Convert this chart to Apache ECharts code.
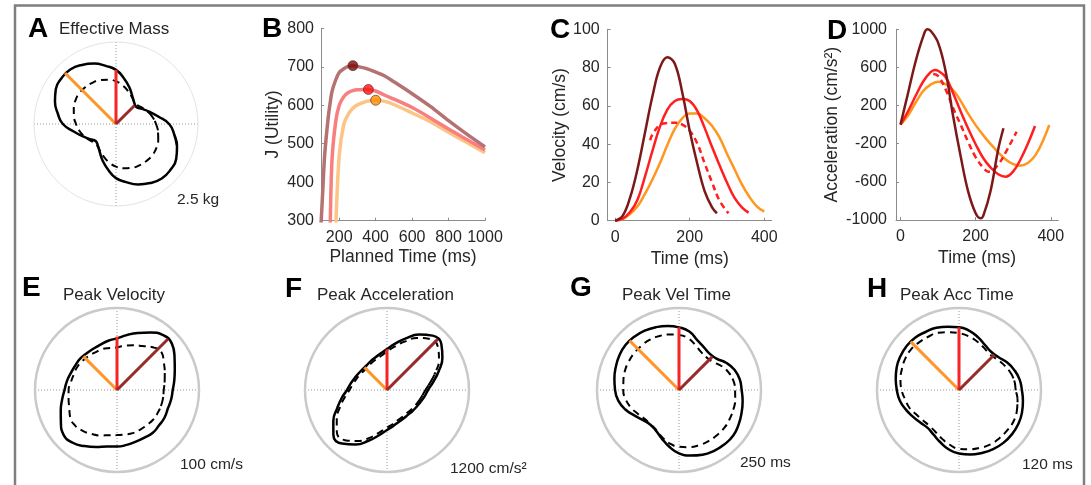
<!DOCTYPE html>
<html><head><meta charset="utf-8">
<script src="https://cdn.jsdelivr.net/npm/echarts@6/dist/echarts.min.js"></script>
<style>html,body{margin:0;padding:0;background:#fff}#c{width:1091px;height:485px}</style>
</head><body><div id="c"></div>
<script>
// ---------- DATA ----------
// polar angles (deg, counter-clockwise from east), every 10 degrees
const polarAngles = [0,10,20,30,40,50,60,70,80,90,100,110,120,130,140,150,160,170,
                     180,190,200,210,220,230,240,250,260,270,280,290,300,310,320,330,340,350];
// spokes: orange, red, dark red
const spokeAngles = [135, 90, 45];

// A: Effective mass (kg)
const massSolid  = [1.62,1.31,1.09,0.92,0.81,0.86,0.99,1.19,1.41,1.65,1.80,1.96,2.08,2.17,2.17,2.12,1.98,1.80,
                    1.62,1.31,1.09,0.92,0.81,0.86,0.99,1.19,1.41,1.65,1.80,1.96,2.08,2.17,2.17,2.12,1.98,1.80];
const massDashed = [1.22,1.14,1.05,0.96,0.88,0.88,0.96,1.07,1.19,1.30,1.37,1.42,1.45,1.46,1.46,1.43,1.37,1.30,
                    1.22,1.14,1.05,0.96,0.88,0.88,0.96,1.07,1.19,1.30,1.37,1.42,1.45,1.46,1.46,1.43,1.37,1.30];
const massSpokes = [2.2, 1.65, 0.8];

// E: Peak velocity (cm/s)
const pvSolid  = [68,71,75,81,87.5,87.5,81,74,68,63,61,59,58,58,59,59,60,62,
                  64,68,73,79,85,84,79,74,70,69,68,67,67,68,67,67,66,67];
const pvDashed = [57,59,62,66,71,68,62,58,55,52,52,53,53,54,55,56,56,57,
                  59,60,62,66,67,65,62,59,56,55,55,56,56,56,57,57,57,57];
const pvSpokes = [58, 65, 88];

// F: Peak acceleration (cm/s^2)
const paSolid  = [600,688,805,936,1039,1039,936,805,688,600,541,505,483,468,468,483,505,541,
                  585,673,775,907,1024,1024,922,790,673,585,534,497,483,475,483,497,519,556];
const paDashed = [563,644,753,878,973,973,878,753,644,563,505,475,454,439,439,454,475,505,
                  549,629,732,849,958,958,863,746,629,549,505,468,454,446,454,468,490,519];
const paSpokes = [468, 595, 1052];

// G: Peak velocity time (ms)
const pvtSolid  = [191,188,180,166,149,145,151,162,181,191,198,204,209,212,213,210,205,200,
                   195,188,174,156,143,137,142,156,175,193,203,210,214,216,216,210,203,197];
const pvtDashed = [171,168,160,148,134,130,134,146,160,168,172,175,177,177,177,176,175,172,
                   170,165,156,145,137,136,140,152,165,173,177,179,180,180,180,178,176,174];
const pvtSpokes = [213, 191, 144];

// H: Peak acceleration time (ms)
const patSolid  = [92,90,86,81,75,73,76,82,88,92,94,97,98,100,100,99,97,94,
                   91,88,83,78,74,72,75,81,88,93,96,98,100,101,101,100,98,95];
const patDashed = [83,82,79,75,71,69,72,76,80,83,86,89,90,91,92,91,89,87,
                   84,80,77,72,69,68,70,75,81,86,88,90,92,92,92,92,90,87];
const patSpokes = [100, 92, 73];

// B: Utility vs planned time
const bTime   = [100,110,120,140,150,160,180,200,225,250,275,300,350,400,450,500,600,700,800,900,1000];
const bDark   = [290,380,470,570,605,635,665,685,695,701,703,701,695,686,676,661,630,597,560,525,492];
const bRed    = [null,null,null,100,280,455,555,600,622,633,638,640,641,637,626,616,594,567,538,511,484];
const bOrange = [null,null,null,null,null,null,270,470,550,577,592,601,610,613,610,602,580,557,530,503,477];
const bPeakTime = [275, 360, 400];
const bPeakJ    = [703, 641, 613];
const bXTicks = [200,400,600,800,1000];
const bYTicks = [300,400,500,600,700,800];

// C: Velocity profiles
const cDarkT  = [0,20,40,60,80,100,120,140,160,180,200,220,240,260,273];
const cDarkV  = [0,2.5,12,27,46,65,80,85.4,82,67,47,30,15.5,7,3.9];
const cRedT   = [0,20,40,60,80,100,120,140,160,180,200,220,240,260,280,300,320,340,358];
const cRedV   = [0,1,4.5,11,23,36.5,49,58,62.5,63.6,62.5,57.5,48.5,38.5,29,20,12,7,4.2];
const cRedDT  = [94,100,120,140,160,180,200,220,240,260,280,304];
const cRedDV  = [42,45,50,51,51.2,50.2,47,40.5,30,20,10.5,3.9];
const cOrT    = [0,20,40,60,80,100,120,140,160,180,200,220,240,260,280,300,320,340,360,380,400];
const cOrV    = [0,0.8,3.5,7.5,14,21.5,30,39.5,48,53.5,56,56,53.5,49.5,43.5,35,27,19,12.5,7.5,4.7];
const cXTicks = [0,200,400];
const cYTicks = [0,20,40,60,80,100];

// D: Acceleration profiles
const dDarkT  = [0,20,40,60,71,80,100,120,140,160,180,200,213,220,240,260,274];
const dDarkA  = [0,330,660,920,1000,985,860,560,90,-330,-700,-930,-982,-960,-690,-260,-38];
const dRedT   = [0,20,40,60,80,91,100,120,140,160,180,200,220,240,260,280,300,320,340,358];
const dRedA   = [0,140,300,450,550,573,565,500,330,140,-40,-205,-350,-450,-520,-546,-490,-360,-190,-14];
const dRedDT  = [87,100,120,140,160,180,200,220,234,240,260,280,309];
const dRedDA  = [531,510,370,175,0,-180,-340,-450,-493,-490,-420,-290,-74];
const dOrT    = [0,20,40,60,80,100,120,140,160,180,200,220,240,260,280,300,318,340,360,380,396];
const dOrA    = [0,95,230,350,420,450,425,363,250,115,-5,-110,-205,-290,-365,-415,-430,-400,-315,-160,-4];
const dXTicks = [0,200,400];
const dYTicks = [-1000,-600,-200,200,600,1000];

// ---------- STYLE ----------
const FONT = '"Liberation Sans", Arial, sans-serif';
const TXT = '#262626';
const AX = '#8c8c8c';
const DARK = '#7d1818', RED = '#ff1f1f', ORANGE = '#ff961e';
const SPOKE_COLORS = ['#ff9428', '#f52525', '#9a2a2a'];

const pairs = (xs, ys) => xs.map((x,i)=>[x, ys[i]]).filter(p=>p[1]!==null);
// closed curve with wrap-around overlap so the spline has no seam
const closed = (vals) => {
  const n = polarAngles.length, out = [];
  for (let k = -2; k <= n + 2; k++) {
    const i = ((k % n) + n) % n;
    out.push([vals[i], polarAngles[i] + 360 * Math.floor(k / n)]);
  }
  return out;
};

const polarsDef = [
  {center:[116,124], max:2.5, solid:massSolid, dashed:massDashed, spokes:massSpokes, cc:'#e4e4e4', cw:1},
  {center:[117,390], max:100, solid:pvSolid, dashed:pvDashed, spokes:pvSpokes, cc:'#cacaca', cw:2.5},
  {center:[387,390], max:1200, solid:paSolid, dashed:paDashed, spokes:paSpokes, cc:'#cacaca', cw:2.5},
  {center:[679,390], max:250, solid:pvtSolid, dashed:pvtDashed, spokes:pvtSpokes, cc:'#cacaca', cw:2.5},
  {center:[959,390], max:120, solid:patSolid, dashed:patDashed, spokes:patSpokes, cc:'#cacaca', cw:2.5}
];

const series = [];
polarsDef.forEach((p, i) => {
  series.push({type:'line', coordinateSystem:'polar', polarIndex:i, data:closed(p.solid), smooth:0.5, symbol:'none',
    lineStyle:{color:'#000', width:2.5}, z:3});
  series.push({type:'line', coordinateSystem:'polar', polarIndex:i, data:closed(p.dashed), smooth:0.5, symbol:'none',
    lineStyle:{color:'#000', width:2, type:[7,5]}, z:3});
  p.spokes.forEach((r, k) => {
    series.push({type:'line', coordinateSystem:'polar', polarIndex:i, data:[[0, spokeAngles[k]], [r, spokeAngles[k]]],
      symbol:'none', lineStyle:{color:SPOKE_COLORS[k], width:3}, z:4});
  });
});

// B
const bLine = (ys, color) => ({type:'line', xAxisIndex:0, yAxisIndex:0, data:pairs(bTime, ys), smooth:0.3,
  symbol:'none', clip:true, lineStyle:{color, width:3.5}});
series.push(bLine(bOrange, '#fdc485'));
series.push(bLine(bRed, '#f77f7f'));
series.push(bLine(bDark, '#b57272'));
series.push({type:'scatter', xAxisIndex:0, yAxisIndex:0, symbolSize:10,
  data: bPeakTime.map((t,i)=>({value:[t, bPeakJ[i]], itemStyle:{color:['#7a0a0a','#ff1010','#ff8c00'][i]}})),
  itemStyle:{borderColor:'#5a2a2a', borderWidth:0.8}, z:5});

// C
const cLine = (ts, vs, color, dashed) => ({type:'line', xAxisIndex:1, yAxisIndex:1, data:pairs(ts, vs), smooth:0.4,
  symbol:'none', lineStyle:{color, width:2.5, type: dashed ? [6,4] : 'solid'}});
series.push(cLine(cOrT, cOrV, ORANGE));
series.push(cLine(cRedT, cRedV, RED));
series.push(cLine(cRedDT, cRedDV, RED, true));
series.push(cLine(cDarkT, cDarkV, DARK));

// D
const dLine = (ts, as, color, dashed) => ({type:'line', xAxisIndex:2, yAxisIndex:2, data:pairs(ts, as), smooth:0.4,
  symbol:'none', lineStyle:{color, width:2.5, type: dashed ? [6,4] : 'solid'}});
series.push(dLine(dOrT, dOrA, ORANGE));
series.push(dLine(dRedT, dRedA, RED));
series.push(dLine(dRedDT, dRedDA, RED, true));
series.push(dLine(dDarkT, dDarkA, DARK));

const fmt = v => String(v);
function xAx(gi, min, max, ticks, name, gap) {
  return {gridIndex:gi, type:'value', min, max, name, nameLocation:'middle', nameGap:gap,
    nameTextStyle:{fontSize:17.5, color:TXT, fontFamily:FONT},
    axisLine:{show:true, onZero:false, lineStyle:{color:AX, width:1}},
    axisTick:{show:true, inside:true, length:3, customValues:ticks, lineStyle:{color:AX}},
    axisLabel:{customValues:ticks, formatter:fmt, fontSize:16, color:TXT, margin:9, fontFamily:FONT},
    splitLine:{show:false}};
}
function yAx(gi, min, max, ticks, name, gap, margin) {
  return {gridIndex:gi, type:'value', min, max, name, nameLocation:'middle', nameGap:gap,
    nameTextStyle:{fontSize:17.5, color:TXT, fontFamily:FONT},
    axisLine:{show:true, onZero:false, lineStyle:{color:AX, width:1}},
    axisTick:{show:true, inside:true, length:3, customValues:ticks, lineStyle:{color:AX}},
    axisLabel:{customValues:ticks, formatter:fmt, fontSize:16, color:TXT, margin, fontFamily:FONT},
    splitLine:{show:false}};
}

const texts = [
  ['A', 28, 29, true], ['B', 262, 29, true], ['C', 550, 30, true], ['D', 827, 31, true],
  ['E', 22, 288, true], ['F', 285, 289, true], ['G', 570, 288, true], ['H', 867, 289, true],
  ['Effective Mass', 59, 29], ['Peak Velocity', 63, 295], ['Peak Acceleration', 317, 295],
  ['Peak Vel Time', 622, 295], ['Peak Acc Time', 900, 295],
  ['2.5 kg', 177, 200, false, 15.5], ['100 cm/s', 180, 465, false, 15.5], ['1200 cm/s²', 450, 469, false, 15.5],
  ['250 ms', 740, 463, false, 15.5], ['120 ms', 1022, 465, false, 15.5]
];
const graphic = texts.map(t => ({type:'text', x:t[1], y:t[2], z:10, style:{text:t[0], fill: t[3] ? '#000' : TXT,
  fontFamily:FONT, fontSize: t[3] ? 28 : (t[4] || 17), fontWeight: t[3] ? 'bold' : 'normal', textAlign:'left', textVerticalAlign:'middle'}}));
graphic.push({type:'polyline', z:10, shape:{points:[[15,485],[15,5.5],[1084,5.5],[1084,485]]},
  style:{stroke:'#7f7f7f', lineWidth:2.5, fill:null}});

const option = {
  animation:false,
  backgroundColor:'#fff',
  textStyle:{fontFamily:FONT},
  polar: polarsDef.map(p => ({center:p.center, radius:82})),
  angleAxis: polarsDef.map((p,i) => ({polarIndex:i, type:'value', min:0, max:360, interval:90, startAngle:0, clockwise:false,
    axisLine:{show:true, lineStyle:{color:p.cc, width:p.cw}}, axisTick:{show:false}, axisLabel:{show:false},
    splitLine:{show:true, lineStyle:{color:'#999', width:1, type:[1,2]}}, splitArea:{show:false}})),
  radiusAxis: polarsDef.map((p,i) => ({polarIndex:i, type:'value', min:0, max:p.max,
    axisLine:{show:false}, axisTick:{show:false}, axisLabel:{show:false}, splitLine:{show:false}})),
  grid: [
    {left:321, top:28.3, width:164, height:192.4},
    {left:607.7, top:29.3, width:164, height:191.4},
    {left:896, top:29.3, width:162.3, height:190.7}
  ],
  xAxis: [
    xAx(0, 100, 1000, bXTicks, 'Planned Time (ms)', 27),
    xAx(1, -20, 420, cXTicks, 'Time (ms)', 29),
    xAx(2, -12, 420, dXTicks, 'Time (ms)', 29)
  ],
  yAxis: [
    yAx(0, 300, 800, bYTicks, 'J (Utility)', 39, 7),
    yAx(1, 0, 100, cYTicks, 'Velocity (cm/s)', 39, 8),
    yAx(2, -1000, 1000, dYTicks, 'Acceleration (cm/s²)', 55, 9)
  ],
  graphic,
  series
};
const chart = echarts.init(document.getElementById('c'), null, {renderer:'canvas'});
chart.setOption(option);
</script></body></html>
